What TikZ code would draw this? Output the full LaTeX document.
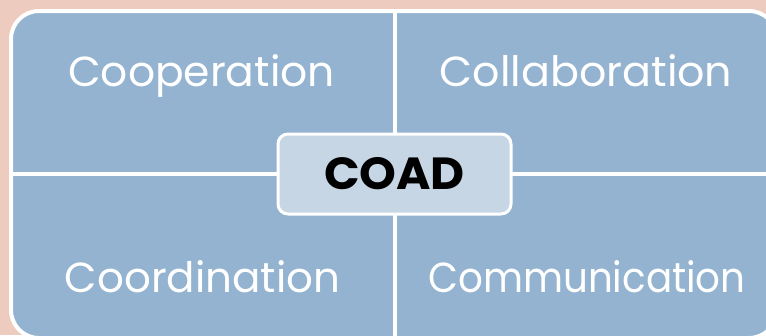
\documentclass[tikz,border=0pt]{standalone}
\usepackage{fontspec}
\usepackage{graphicx}
\setmainfont{Poppins}
\definecolor{bgpink}{HTML}{EECBBF}
\definecolor{quadblue}{HTML}{93B3D0}
\definecolor{centerfill}{HTML}{C6D6E4}
\begin{document}
\begin{tikzpicture}[x=1pt,y=-1pt,
  quadtext/.style={anchor=base,text=white,font=\fontsize{42}{50}\selectfont,inner sep=0pt},
  centerbox/.style={draw=white,line width=3pt,fill=centerfill,rounded corners=10pt,minimum width=233pt,minimum height=80pt,font=\bfseries\fontsize{45}{52}\selectfont,text=black},
  divider/.style={draw=white,line width=4pt}]
\useasboundingbox (0,0) rectangle (766,335);
\clip (0,0) rectangle (766,335);
\fill[bgpink] (0,0) rectangle (766,335);
\draw[white,line width=4pt,fill=quadblue,rounded corners=28pt] (11,11) rectangle (777,338);
\coordinate (vtop) at (395,11);
\coordinate (vbot) at (395,338);
\coordinate (hleft) at (11,174);
\coordinate (hright) at (777,174);
\draw[divider] (vtop) -- (vbot);
\draw[divider] (hleft) -- (hright);
\node[quadtext] (coop) at (201.5,86) {\scalebox{1.01}[1]{Cooperation}};
\node[quadtext] (collab) at (586,86) {\scalebox{1.02}[1]{Collaboration}};
\node[quadtext] (coord) at (202.5,292) {Coordination};
\node[quadtext] (comm) at (587,292) {\scalebox{0.925}[1]{Communication}};
\node[centerbox] (coad) at (394.5,174) {\scalebox{1.04}[1]{COAD}};
\end{tikzpicture}
\end{document}
